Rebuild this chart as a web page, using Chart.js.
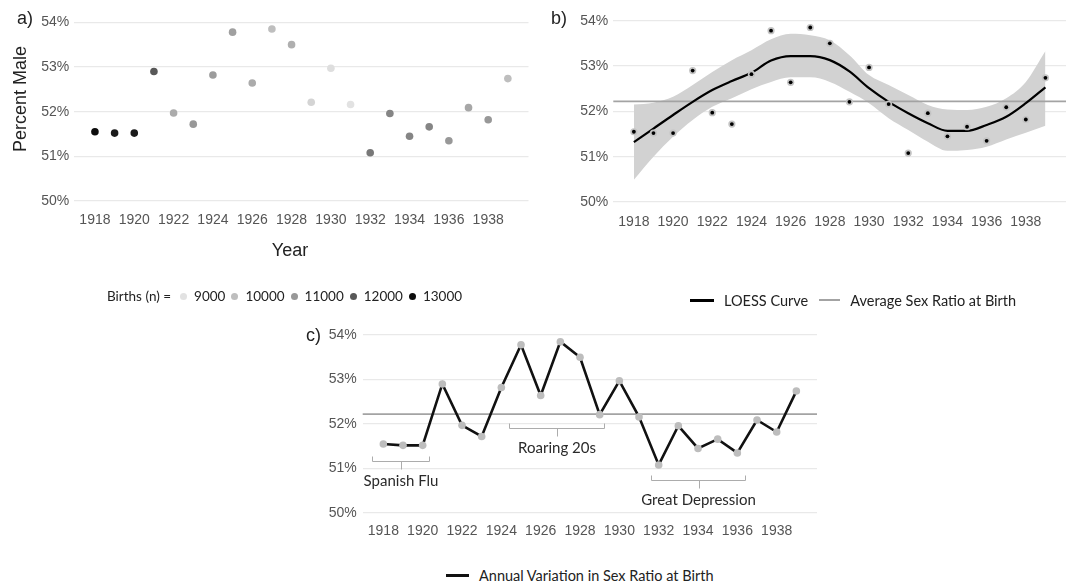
<!DOCTYPE html>
<html>
<head>
<meta charset="utf-8">
<title>Sex ratio at birth, 1918-1939</title>
<script src="https://cdn.jsdelivr.net/npm/chart.js@4.4.1/dist/chart.umd.min.js"></script>
<style>
  html, body { margin: 0; background: #fff; }
  #page { position: relative; width: 1070px; height: 583px; overflow: hidden; font-family: Lato, "Open Sans", sans-serif; color: #222; }
  #page canvas, .txt, .key { position: absolute; }
  .txt { font-family: "Liberation Sans", Arial, sans-serif; font-size: 18px; color: #222; white-space: nowrap; line-height: 20px; }
  .center { transform: translate(-50%, -50%); }
  .key { display: flex; align-items: center; white-space: nowrap; font-size: 14.5px; height: 20px; color: #222; }
  .swatch { display: inline-block; }
  .dot { display: inline-block; width: 7px; height: 7px; border-radius: 50%; }
</style>
</head>
<body>
<div id="page">
  <canvas id="chartA" width="535" height="232" style="left:0;top:0"></canvas>
  <canvas id="chartB" width="530" height="232" style="left:540px;top:0"></canvas>
  <canvas id="chartC" width="530" height="225" style="left:300px;top:320px"></canvas>

  <div class="txt" style="left:17px;top:8px">a)</div>
  <div class="txt" style="left:551px;top:8px">b)</div>
  <div class="txt" style="left:306px;top:325px">c)</div>
  <div class="txt center" style="left:20px;top:99px;transform:translate(-50%,-50%) rotate(-90deg)">Percent Male</div>
  <div class="txt center" style="left:290px;top:250px">Year</div>

  <div class="key" id="keyA" style="left:107px;top:286px;font-size:13.5px"></div>
  <div class="key" id="keyB" style="left:690px;top:290px"></div>
  <div class="key" id="keyC" style="left:446px;top:565px"></div>
</div>

<script>
// data
const years = [1918, 1919, 1920, 1921, 1922, 1923, 1924, 1925, 1926, 1927, 1928,
               1929, 1930, 1931, 1932, 1933, 1934, 1935, 1936, 1937, 1938, 1939];
const percentMale = [51.55, 51.52, 51.52, 52.90, 51.97, 51.72, 52.82, 53.78, 52.64, 53.85, 53.50,
                     52.21, 52.97, 52.16, 51.08, 51.96, 51.45, 51.66, 51.35, 52.09, 51.82, 52.74];
const births = [13000, 12800, 12800, 12000, 10500, 11000, 10900, 10800, 10500, 10000, 10400,
                9400, 9100, 9000, 11500, 11300, 11300, 11300, 11000, 10600, 11000, 10000];
const loessFit = [51.32, 51.62, 51.92, 52.21, 52.47, 52.67, 52.85, 53.12, 53.22, 53.22, 53.13,
                  52.88, 52.51, 52.21, 51.96, 51.74, 51.57, 51.57, 51.70, 51.88, 52.18, 52.53];
const loessUpper = [52.15, 52.19, 52.32, 52.58, 52.87, 53.13, 53.35, 53.59, 53.71, 53.68, 53.57,
                    53.24, 52.80, 52.58, 52.36, 52.14, 52.04, 52.03, 52.10, 52.29, 52.65, 53.33];
const loessLower = [50.49, 51.00, 51.44, 51.81, 52.10, 52.29, 52.49, 52.65, 52.75, 52.75, 52.65,
                    52.43, 52.18, 51.85, 51.59, 51.33, 51.13, 51.15, 51.22, 51.38, 51.53, 51.68];
const averageRatio = 52.22;

const yearTicks = [1918, 1920, 1922, 1924, 1926, 1928, 1930, 1932, 1934, 1936, 1938];
const percentTicks = [50, 51, 52, 53, 54];
const birthLevels = [9000, 10000, 11000, 12000, 13000];

const events = ['Spanish Flu', 'Roaring 20s', 'Great Depression'];
const eventFrom = [1917.43, 1924.39, 1931.60];
const eventTo = [1920.32, 1929.22, 1936.38];
const eventLevel = [51.17, 51.91, 50.75];

// birth count -> grey level
const shadeStops = [[9000, 226], [10000, 190], [11000, 152], [12000, 88], [13000, 12]];
function birthShade(n) {
  let g = shadeStops[0][1];
  for (let i = 1; i < shadeStops.length; i++) {
    const [n0, g0] = shadeStops[i - 1], [n1, g1] = shadeStops[i];
    if (n >= n0) g = g0 + (g1 - g0) * Math.min(1, (n - n0) / (n1 - n0));
  }
  g = Math.round(g);
  return `rgb(${g},${g},${g})`;
}

const toPoints = vals => years.map((yr, i) => ({ x: yr, y: vals[i] }));

const tickFont = { family: '"Liberation Sans Narrow", "Liberation Sans", Arial, sans-serif', size: 14 };
const tickColor = '#555';
const avgColor = '#a3a3a3';

function baseOptions(o) {
  return {
    responsive: false,
    animation: false,
    devicePixelRatio: 1,
    events: [],
    layout: { padding: { top: o.top, right: o.right, left: 0, bottom: 0 } },
    plugins: { legend: { display: false }, tooltip: { enabled: false } },
    scales: {
      x: {
        type: 'linear', min: 1916.95, max: 1940.05,
        afterFit: s => { s.height = o.xh; },
        afterBuildTicks: s => { s.ticks = yearTicks.map(v => ({ value: v })); },
        grid: { display: false, drawTicks: false },
        border: { display: false },
        ticks: { padding: o.xpad, color: tickColor, font: tickFont, maxRotation: 0, autoSkip: false, callback: v => String(v) }
      },
      y: {
        min: 50, max: 54,
        afterFit: s => { s.width = o.yw; },
        afterBuildTicks: s => { s.ticks = percentTicks.map(v => ({ value: v })); },
        grid: { color: '#e9e9e9', lineWidth: 1.2, drawTicks: false },
        border: { display: false },
        ticks: { padding: o.ypad, color: tickColor, font: tickFont, callback: v => v + '%' }
      }
    }
  };
}

// horizontal average line, drawn just before a given dataset
function averageLine(beforeIndex) {
  return {
    id: 'averageLine',
    beforeDatasetDraw(chart, args) {
      if (args.index !== beforeIndex) return;
      const { ctx, chartArea, scales } = chart;
      const y = scales.y.getPixelForValue(averageRatio);
      ctx.save();
      ctx.strokeStyle = avgColor;
      ctx.lineWidth = 1.8;
      ctx.beginPath();
      ctx.moveTo(chartArea.left, y);
      ctx.lineTo(chartArea.right, y);
      ctx.stroke();
      ctx.restore();
    }
  };
}

// a) scatter shaded by births
new Chart(document.getElementById('chartA'), {
  type: 'scatter',
  data: {
    datasets: [{
      data: toPoints(percentMale),
      backgroundColor: births.map(birthShade),
      pointRadius: 3.8,
      borderWidth: 0
    }]
  },
  options: baseOptions({ top: 22.3, right: 6.5, yw: 74.3, xh: 31, xpad: 11, ypad: 5 })
});

// b) loess curve with confidence band
new Chart(document.getElementById('chartB'), {
  type: 'scatter',
  data: {
    datasets: [
      { label: 'dots', data: toPoints(percentMale), pointRadius: 1.9, backgroundColor: '#000', borderWidth: 0 },
      { label: 'halo', data: toPoints(percentMale), pointRadius: 3.6, backgroundColor: '#c4c4c4', borderWidth: 0 },
      { type: 'line', label: 'LOESS Curve', data: toPoints(loessFit), borderColor: '#000', borderWidth: 2.2,
        pointRadius: 0, cubicInterpolationMode: 'monotone', fill: false },
      { type: 'line', label: 'upper', data: toPoints(loessUpper), borderColor: 'rgba(0,0,0,0)', borderWidth: 0,
        pointRadius: 0, cubicInterpolationMode: 'monotone', fill: '+1', backgroundColor: '#d2d2d2' },
      { type: 'line', label: 'lower', data: toPoints(loessLower), borderColor: 'rgba(0,0,0,0)', borderWidth: 0,
        pointRadius: 0, cubicInterpolationMode: 'monotone', fill: false }
    ]
  },
  options: baseOptions({ top: 20.7, right: 2.5, yw: 73.3, xh: 30, xpad: 12, ypad: 5 }),
  plugins: [averageLine(2)]
});

// c) annual series with period brackets
const brackets = {
  id: 'brackets',
  afterDatasetsDraw(chart) {
    const { ctx, scales } = chart;
    ctx.save();
    ctx.strokeStyle = '#acacac';
    ctx.lineWidth = 1;
    ctx.fillStyle = '#2a2a2a';
    ctx.font = '15px Lato, "Open Sans", sans-serif';
    ctx.textAlign = 'center';
    ctx.textBaseline = 'middle';
    events.forEach((name, i) => {
      const x1 = Math.round(scales.x.getPixelForValue(eventFrom[i])) + 0.5;
      const x2 = Math.round(scales.x.getPixelForValue(eventTo[i])) + 0.5;
      const xm = Math.round((x1 + x2) / 2) + 0.5;
      const y = Math.round(scales.y.getPixelForValue(eventLevel[i])) + 0.5;
      ctx.beginPath();
      ctx.moveTo(x1, y - 5);
      ctx.lineTo(x1, y);
      ctx.lineTo(x2, y);
      ctx.lineTo(x2, y - 5);
      ctx.moveTo(xm, y);
      ctx.lineTo(xm, y + 8);
      ctx.stroke();
      ctx.fillText(name, (x1 + x2) / 2, y + 20);
    });
    ctx.restore();
  }
};

new Chart(document.getElementById('chartC'), {
  type: 'scatter',
  data: {
    datasets: [{
      type: 'line',
      label: 'Annual Variation in Sex Ratio at Birth',
      data: toPoints(percentMale),
      borderColor: '#111',
      borderWidth: 2.6,
      tension: 0,
      pointRadius: 3.8,
      pointBackgroundColor: '#bdbdbd',
      pointBorderWidth: 0,
      fill: false
    }]
  },
  options: baseOptions({ top: 15, right: 13, yw: 62.7, xh: 32, xpad: 10, ypad: 6 }),
  plugins: [averageLine(0), brackets]
});

// legends
function lineKey(color, width, len, label, gapAfter) {
  return `<span class="swatch" style="width:${len}px;height:${width}px;background:${color};margin-right:10px"></span>` +
         `<span style="margin-right:${gapAfter}px">${label}</span>`;
}
document.getElementById('keyB').innerHTML =
  lineKey('#000', 3, 24, 'LOESS Curve', 11) + lineKey(avgColor, 2, 21, 'Average Sex Ratio at Birth', 0);
document.getElementById('keyC').innerHTML =
  lineKey('#111', 3, 23, 'Annual Variation in Sex Ratio at Birth', 0);
document.getElementById('keyA').innerHTML =
  '<span style="margin-right:9px">Births (n) =</span>' +
  birthLevels.map(n => `<span class="dot" style="background:${birthShade(n)};margin-right:7px"></span>` +
                       `<span style="margin-right:6px">${n}</span>`).join('');
</script>
</body>
</html>
